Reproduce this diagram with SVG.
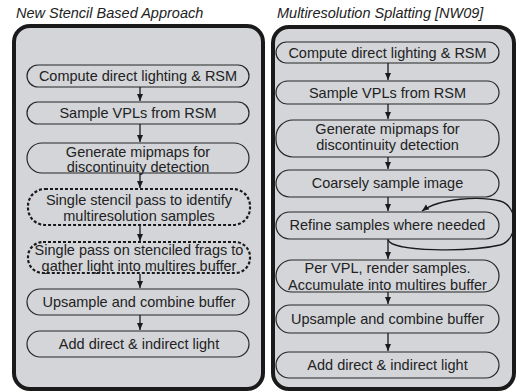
<svg xmlns="http://www.w3.org/2000/svg" width="516" height="391" viewBox="0 0 516 391">
<style>
.title{font-family:"Liberation Sans",Arial,sans-serif;font-size:14.5px;font-style:italic;fill:#222}
.panel{fill:#d3d5d9;stroke:#1a1a1a;stroke-width:4}
.box{fill:#d3d5d9;stroke:#262626;stroke-width:1.2}
.dbox{fill:#d3d5d9;stroke:#1a1a1a;stroke-width:2.2;stroke-dasharray:3 2}
.t{font-family:"Liberation Sans",Arial,sans-serif;font-size:14.5px;fill:#222;text-anchor:middle}
.c{fill:none;stroke:#1a1a1a;stroke-width:1.3}
</style>
<defs>
<marker id="ah" markerWidth="8" markerHeight="8" refX="7" refY="4" orient="auto" markerUnits="userSpaceOnUse">
<path d="M0,1 L7,4 L0,7 z" fill="#1a1a1a"/>
</marker>
</defs>
<rect width="516" height="391" fill="#fff"/>
<text class="title" x="16" y="18">New Stencil Based Approach</text>
<text class="title" x="277" y="18">Multiresolution Splatting [NW09]</text>
<rect class="panel" x="14" y="26" width="249" height="363" rx="16"/>
<rect class="panel" x="273" y="27" width="241" height="362" rx="16"/>

<g id="L1"><rect class="box" x="27" y="65" width="222" height="22" rx="11"/><text class="t" x="138" y="81">Compute direct lighting &amp; RSM</text></g>
<g id="L2"><rect class="box" x="27" y="102" width="222" height="22" rx="11"/><text class="t" x="138" y="118">Sample VPLs from RSM</text></g>
<g id="L3"><rect class="box" x="27" y="143" width="222" height="30" rx="15"/><text class="t" x="138" y="157">Generate mipmaps for</text><text class="t" x="138" y="172">discontinuity detection</text></g>
<g id="L4"><rect class="dbox" x="28" y="189" width="222" height="36" rx="17"/><text class="t" x="139" y="205">Single stencil pass to identify</text><text class="t" x="139" y="221">multiresolution samples</text></g>
<g id="L5"><rect class="dbox" x="28" y="242" width="222" height="31" rx="15"/><text class="t" x="139" y="255">Single pass on stenciled frags to</text><text class="t" x="139" y="271">gather light into multires buffer</text></g>
<g id="L6"><rect class="box" x="27" y="289" width="222" height="26" rx="13"/><text class="t" x="139" y="307">Upsample and combine buffer</text></g>
<g id="L7"><rect class="box" x="27" y="331" width="222" height="26" rx="13"/><text class="t" x="139" y="349">Add direct &amp; indirect light</text></g>

<g id="R1"><rect class="box" x="276" y="42" width="223" height="21" rx="10.5"/><text class="t" x="387.5" y="57.5">Compute direct lighting &amp; RSM</text></g>
<g id="R2"><rect class="box" x="276" y="81" width="223" height="23" rx="11.5"/><text class="t" x="387.5" y="97.5">Sample VPLs from RSM</text></g>
<g id="R3"><rect class="box" x="276" y="120" width="223" height="37" rx="17"/><text class="t" x="387.5" y="133.5">Generate mipmaps for</text><text class="t" x="387.5" y="150">discontinuity detection</text></g>
<g id="R4"><rect class="box" x="276" y="170" width="223" height="27" rx="13.5"/><text class="t" x="387.5" y="188">Coarsely sample image</text></g>
<g id="R5"><rect class="box" x="276" y="212" width="223" height="27" rx="13.5"/><text class="t" x="387.5" y="230">Refine samples where needed</text></g>
<g id="R6"><rect class="box" x="276" y="260" width="223" height="32" rx="16"/><text class="t" x="387.5" y="273">Per VPL, render samples.</text><text class="t" x="387.5" y="290">Accumulate into multires buffer</text></g>
<g id="R7"><rect class="box" x="276" y="305" width="223" height="28" rx="14"/><text class="t" x="387.5" y="324">Upsample and combine buffer</text></g>
<g id="R8"><rect class="box" x="276" y="352" width="223" height="26" rx="13"/><text class="t" x="387.5" y="370">Add direct &amp; indirect light</text></g>

<g id="connectors">
<line class="c" x1="140" y1="87" x2="140" y2="101" marker-end="url(#ah)"/>
<line class="c" x1="140" y1="124" x2="140" y2="142" marker-end="url(#ah)"/>
<line class="c" x1="140" y1="173" x2="140" y2="188" marker-end="url(#ah)"/>
<line class="c" x1="140" y1="226" x2="140" y2="241" marker-end="url(#ah)"/>
<line class="c" x1="140" y1="274" x2="140" y2="288" marker-end="url(#ah)"/>
<line class="c" x1="140" y1="315" x2="140" y2="330" marker-end="url(#ah)"/>
<line class="c" x1="388" y1="63" x2="388" y2="80" marker-end="url(#ah)"/>
<line class="c" x1="388" y1="104" x2="388" y2="119" marker-end="url(#ah)"/>
<line class="c" x1="388" y1="157" x2="388" y2="169" marker-end="url(#ah)"/>
<line class="c" x1="388" y1="197" x2="388" y2="211" marker-end="url(#ah)"/>
<line class="c" x1="388" y1="239" x2="388" y2="259" marker-end="url(#ah)"/>
<line class="c" x1="388" y1="292" x2="388" y2="304" marker-end="url(#ah)"/>
<line class="c" x1="388" y1="333" x2="388" y2="351" marker-end="url(#ah)"/>
<path class="c" d="M388,240 C392,252 470,252 500,245 C519,240 519,206 500,201 C480,196 440,198 422,211" marker-end="url(#ah)"/>
</g>
</svg>
